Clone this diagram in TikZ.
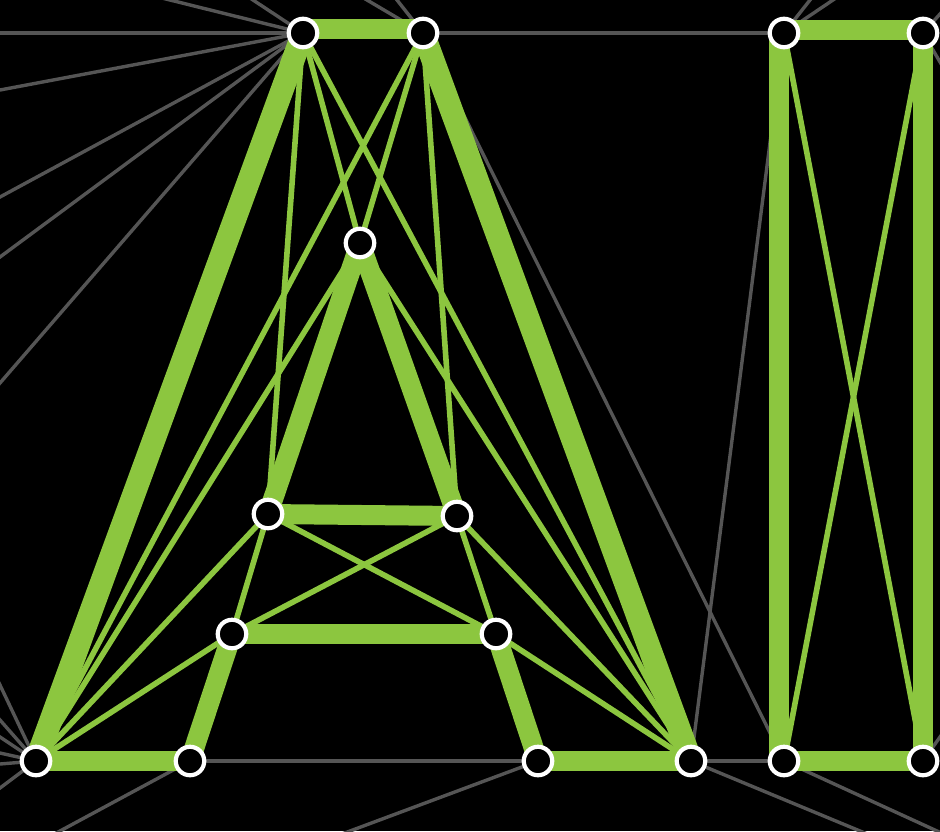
\documentclass[tikz,border=0pt]{standalone}
\usetikzlibrary{calc}
\definecolor{lime}{HTML}{8CC63F}
\definecolor{wire}{HTML}{555555}
\pgfdeclarelayer{bg}
\pgfdeclarelayer{edges}
\pgfsetlayers{bg,edges,main}
\begin{document}
\begin{tikzpicture}[x=1pt,y=-1pt,
  vtx/.style={circle,draw=white,fill=black,line width=4.2pt,minimum size=28.5pt,inner sep=0pt},
  greenheavy/.style={draw=lime,line width=20pt},
  greenleg/.style={draw=lime,line width=23pt},
  greenthin/.style={draw=lime,line width=5.6pt},
  grayline/.style={draw=wire,line width=3.4pt}]
\useasboundingbox (0,0) rectangle (940,831);
% vertices
\node[vtx] (t1) at (303,33) {};
\node[vtx] (t2) at (423,33) {};
\node[vtx] (ap) at (360,243) {};
\node[vtx] (il) at (268,514) {};
\node[vtx] (ir) at (457,516) {};
\node[vtx] (ml) at (232,634) {};
\node[vtx] (mr) at (496,634) {};
\node[vtx] (bl1) at (36,761) {};
\node[vtx] (bl2) at (190,761) {};
\node[vtx] (br1) at (538,761) {};
\node[vtx] (br2) at (691,761) {};
\node[vtx] (itl) at (784,33) {};
\node[vtx] (itr) at (923,33) {};
\node[vtx] (ibl) at (784,761) {};
\node[vtx] (ibr) at (923,761) {};
% free ends of background lines
\coordinate (ga1) at (0,33);
\coordinate (ga2) at (0,90);
\coordinate (ga3) at (0,197);
\coordinate (ga4) at (0,257);
\coordinate (ga5) at (0,383);
\coordinate (ga6) at (170,0);
\coordinate (ga7) at (253,0);
\coordinate (gb1) at (367,0);
\coordinate (gb2) at (397,0);
\coordinate (gc1) at (810,0);
\coordinate (gc2) at (833,0);
\coordinate (gd1) at (940,14);
\coordinate (gd2) at (940,62);
\coordinate (ge1) at (940,737);
\coordinate (gf1) at (0,685);
\coordinate (gf2) at (0,720);
\coordinate (gf3) at (0,737);
\coordinate (gf4) at (0,753);
\coordinate (gf5) at (0,764);
\coordinate (gf6) at (0,788);
\coordinate (gg1) at (60,831);
\coordinate (gh1) at (350,831);
\coordinate (gi1) at (860,831);
\coordinate (gj1) at (937,831);
\begin{pgfonlayer}{bg}
\fill[black] (0,0) rectangle (940,831);
\begin{scope}
\clip (0,0) rectangle (940,831);
\foreach \e in {ga1,ga2,ga3,ga4,ga5,ga6,ga7}
  \draw[grayline] (t1.center) -- ($(t1.center)!2!(\e)$);
\foreach \e in {gb1,gb2}
  \draw[grayline] (t2.center) -- ($(t2.center)!2!(\e)$);
\foreach \e in {gc1,gc2}
  \draw[grayline] (itl.center) -- ($(itl.center)!2!(\e)$);
\foreach \e in {gd1,gd2}
  \draw[grayline] (itr.center) -- ($(itr.center)!2!(\e)$);
\draw[grayline] (ibr.center) -- ($(ibr.center)!2!(ge1)$);
\foreach \e in {gf1,gf2,gf3,gf4,gf5,gf6}
  \draw[grayline] (bl1.center) -- ($(bl1.center)!2!(\e)$);
\draw[grayline] (bl2.center) -- ($(bl2.center)!2!(gg1)$);
\draw[grayline] (br1.center) -- ($(br1.center)!2!(gh1)$);
\draw[grayline] (br2.center) -- ($(br2.center)!2!(gi1)$);
\draw[grayline] (ibl.center) -- ($(ibl.center)!2!(gj1)$);
\draw[grayline] (t2.center) -- (itl.center);
\draw[grayline] (t2.center) -- (ibl.center);
\draw[grayline] (itl.center) -- (br2.center);
\draw[grayline] (bl2.center) -- (br1.center);
\draw[grayline] (br2.center) -- (ibl.center);
\end{scope}
\end{pgfonlayer}
\begin{pgfonlayer}{edges}
% thin green edges
\foreach \a/\b in {t1/ap,t1/il,t1/br2,t2/ap,t2/ir,t2/bl1,ap/bl1,ap/br2,
  il/bl1,il/ml,il/mr,ir/ml,ir/mr,ir/br2,ml/bl1,mr/br2,itl/ibr,itr/ibl}
  \draw[greenthin] (\a.center) -- (\b.center);
% heavy green edges
\draw[greenleg] (t1.center) -- (bl1.center);
\draw[greenleg] (t2.center) -- (br2.center);
\draw[greenheavy] ([yshift=4pt]t1.center) -- ([yshift=4pt]t2.center);
\draw[greenheavy] (bl1.center) -- (bl2.center);
\draw[greenheavy] (bl2.center) -- (ml.center);
\draw[greenheavy] (ml.center) -- (mr.center);
\draw[greenheavy] (mr.center) -- (br1.center);
\draw[greenheavy] (br1.center) -- (br2.center);
\draw[greenheavy] (ap.center) -- (il.center);
\draw[greenheavy] (ap.center) -- (ir.center);
\draw[greenheavy] (il.center) -- (ir.center);
\draw[greenheavy] ([yshift=3pt]itl.center) -- ([yshift=3pt]itr.center);
\draw[greenheavy] ([xshift=-5pt]itl.center) -- ([xshift=-5pt]ibl.center);
\draw[greenheavy] (itr.center) -- (ibr.center);
\draw[greenheavy] (ibl.center) -- (ibr.center);
\end{pgfonlayer}
\end{tikzpicture}
\end{document}
